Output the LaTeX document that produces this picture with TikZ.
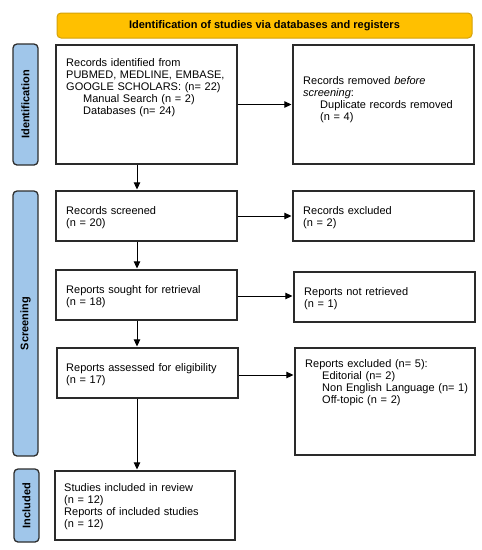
\documentclass[tikz,border=0pt]{standalone}
\usepackage{fontspec}
\setmainfont{Liberation Sans}
\usetikzlibrary{arrows.meta}
\definecolor{bannerfill}{HTML}{FFC000}
\definecolor{bannerline}{HTML}{D4A20A}
\definecolor{sidefill}{HTML}{A0C6EA}
\definecolor{sideline}{HTML}{2E2E2E}
\definecolor{boxline}{HTML}{2A2A2A}
\begin{document}
\begin{tikzpicture}[x=1pt,y=-1pt,
  box/.style={draw=boxline,line width=1.2pt,fill=white,inner sep=0pt},
  txt/.style={anchor=base west,inner sep=0pt,text width=178pt,align=left,font=\fontsize{11}{12}\selectfont},
  sidebar/.style={draw=sideline,line width=1.3pt,fill=sidefill,rounded corners=4pt,rotate=90,inner sep=0pt,minimum height=25pt,font=\bfseries\fontsize{11}{12}\selectfont},
  arr/.style={line width=0.9pt,-{Triangle[length=7pt,width=6.5pt]},shorten >=1pt}
]
\useasboundingbox (0,0) rectangle (482,550);
\fill[white] (0,0) rectangle (482,550);

% banner
\node[draw=bannerline,line width=1pt,fill=bannerfill,rounded corners=4pt,minimum width=415pt,minimum height=25pt,inner sep=0pt,font=\bfseries\fontsize{11}{12}\selectfont] (ban) at (264.5,25.5) {Identification of studies via databases and registers};

% side bars
\node[sidebar,minimum width=121pt] (sid) at (25.5,104.5) {Identification};
\node[sidebar,minimum width=265pt] (sscr) at (25.5,323.5) {Screening};
\node[sidebar,minimum width=73pt] (sinc) at (26.5,505.5) {Included};

% boxes
\node[box,minimum width=181pt,minimum height=119pt] (b1) at (146.5,104.5) {};
\node[box,minimum width=181pt,minimum height=119pt] (rem) at (383.5,104.5) {};
\node[box,minimum width=181pt,minimum height=50pt] (scr) at (146.5,216) {};
\node[box,minimum width=181pt,minimum height=50pt] (exc) at (383.5,216) {};
\node[box,minimum width=181pt,minimum height=50pt] (sou) at (146.5,295) {};
\node[box,minimum width=181pt,minimum height=50pt] (nret) at (384.5,297) {};
\node[box,minimum width=181pt,minimum height=50pt] (ass) at (147.5,373) {};
\node[box,minimum width=180pt,minimum height=107pt] (rexc) at (385,401.5) {};
\node[box,minimum width=180pt,minimum height=69pt] (inc) at (145,505.5) {};

% texts
\node[txt] (t1) at (66,66) {Records identified from\\PUBMED, MEDLINE, EMBASE,\\GOOGLE SCHOLARS: (n= 22)\\\hspace*{17pt}Manual Search (n = 2)\\\hspace*{17pt}Databases (n= 24)};
\node[txt] (trem) at (303,84) {Records removed \textit{before}\\\textit{screening}:\\\hspace*{17pt}Duplicate records removed\\\hspace*{17pt}(n = 4)};
\node[txt] (tscr) at (66,214) {Records screened\\(n = 20)};
\node[txt] (texc) at (303,214) {Records excluded\\(n = 2)};
\node[txt] (tsou) at (66,293) {Reports sought for retrieval\\(n = 18)};
\node[txt] (tnret) at (304,295) {Reports not retrieved\\(n = 1)};
\node[txt] (tass) at (66,371) {Reports assessed for eligibility\\(n = 17)};
\node[txt] (trexc) at (305,367) {Reports excluded (n= 5):\\\hspace*{17pt}Editorial (n= 2)\\\hspace*{17pt}Non English Language (n= 1)\\\hspace*{17pt}Off-topic (n = 2)};
\node[txt] (tinc) at (64,491) {Studies included in review\\(n = 12)\\Reports of included studies\\(n = 12)};

% connectors
\coordinate (ax) at (137,0);
\draw[arr] (b1) -- (rem);
\draw[arr] (scr) -- (exc);
\draw[arr] (sou.east |- 0,296) -- (nret.west |- 0,296);
\draw[arr] (ass.east |- 0,375) -- (rexc.west |- 0,375);
\draw[arr] (b1.south -| ax) -- (scr.north -| ax);
\draw[arr] (scr.south -| ax) -- (sou.north -| ax);
\draw[arr] (sou.south -| ax) -- (ass.north -| ax);
\draw[arr] (ass.south -| ax) -- (inc.north -| ax);
\end{tikzpicture}
\end{document}
